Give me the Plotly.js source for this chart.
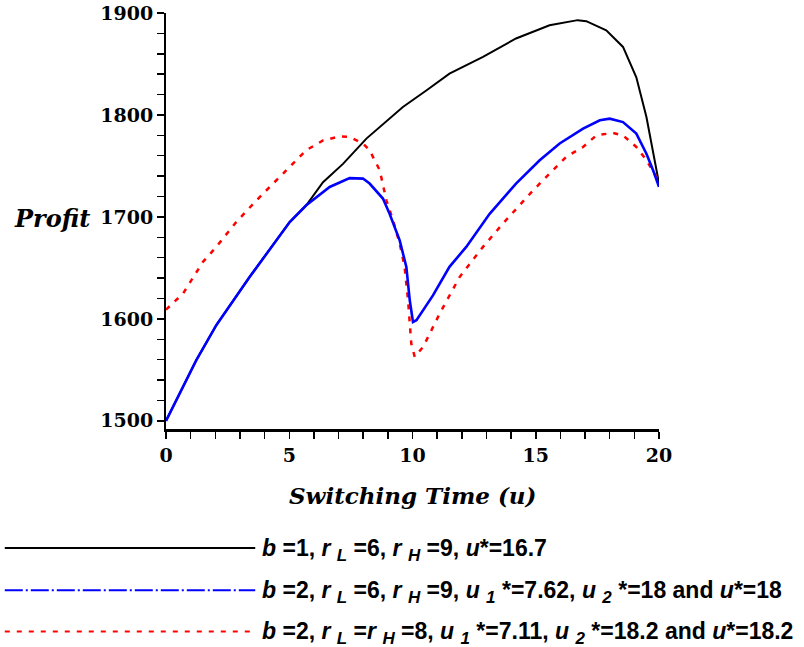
<!DOCTYPE html>
<html>
<head>
<meta charset="utf-8">
<script src="https://cdn.plot.ly/plotly-3.0.1.min.js"></script>
<style>html,body{margin:0;padding:0;background:#fff;}#chart{width:804px;height:647px;}</style>
</head>
<body>
<div id="chart"></div>
<script>
// Series 1: b=1, rL=6, rH=9
const uBlack = [0, 1.23, 2.04, 3.39, 5.02, 5.69, 6.37, 7.18, 8.13, 9.61, 10.56, 11.5, 12.86, 14.2, 15.56, 16.4, 16.7, 17.05, 17.86, 18.54, 19.08, 19.49, 19.76, 19.96, 20];
const profitBlack = [1500, 1559.5, 1593.8, 1641, 1695, 1711.4, 1734, 1752, 1776.8, 1807.8, 1824, 1840.5, 1857, 1875, 1888, 1892, 1893, 1892, 1883, 1866.7, 1837, 1798, 1765, 1740, 1733];
// Series 2: b=2, rL=6, rH=9
const uBlue = [0, 1.23, 2.04, 3.39, 5.02, 5.69, 6.64, 7.45, 7.99, 8.26, 8.8, 9.07, 9.48, 9.75, 9.89, 10.02, 10.16, 10.83, 11.5, 12.18, 13.13, 14.2, 15.16, 15.97, 16.92, 17.6, 18.0, 18.54, 19.08, 19.49, 19.76, 20];
const profitBlue = [1500, 1559.5, 1593.8, 1641, 1695, 1711.4, 1729.4, 1738, 1737.6, 1732.7, 1718, 1703, 1677, 1651, 1618, 1597, 1598.7, 1623, 1651, 1670.6, 1703, 1732.7, 1755.6, 1772, 1786.6, 1794.8, 1796.4, 1793, 1781.7, 1762, 1745.8, 1729.4];
// Series 3: b=2, rL=rH=8
const uRed = [0, 0.69, 1.5, 2.04, 2.85, 3.66, 4.75, 5.69, 6.37, 7.05, 7.45, 7.99, 8.26, 8.67, 8.94, 9.21, 9.48, 9.68, 9.82, 9.95, 10.09, 10.43, 11.1, 11.91, 12.86, 13.67, 14.89, 16.24, 16.92, 17.46, 18.13, 18.54, 19.08, 19.49, 19.9, 20];
const profitRed = [1609, 1624.8, 1655.9, 1670.6, 1695, 1716, 1742.5, 1765.4, 1775, 1779, 1778.4, 1772, 1765.4, 1745.8, 1716.3, 1696.7, 1674, 1651, 1618, 1575.8, 1562.7, 1572.5, 1605, 1641, 1670.6, 1693.5, 1726, 1759, 1768.6, 1780, 1782.4, 1780, 1768.6, 1755.6, 1739, 1734];

function sb(s) { return ' <sub><span style="font-size:17px"><i>' + s + '</i></span></sub> '; }
const legendNames = [
  '<b><i>b</i> =1, <i>r</i>' + sb('L') + '=6, <i>r</i>' + sb('H') + '=9, <i>u</i>*=16.7</b>',
  '<b><i>b</i> =2, <i>r</i>' + sb('L') + '=6, <i>r</i>' + sb('H') + '=9, <i>u</i>' + sb('1') + '*=7.62, <i>u</i>' + sb('2') + '*=18 and <i>u</i>*=18</b>',
  '<b><i>b</i> =2, <i>r</i>' + sb('L') + '=<i>r</i>' + sb('H') + '=8, <i>u</i>' + sb('1') + '*=7.11, <i>u</i>' + sb('2') + '*=18.2 and <i>u</i>*=18.2</b>'
];
const seriesColors = ['#000000', '#0000ff', '#ff0000'];
const seriesDash = ['solid', '18px,3px,2px,3px', '5px,7px'];
const xTitle = '<b><i>Switching Time (u)</i></b>';
const yTitle = '<b><i>Profit</i></b>';

const traces = [
  {x: uBlack, y: profitBlack, mode: 'lines', name: 'b=1', showlegend: false,
   line: {color: seriesColors[0], width: 2}},
  {x: uRed, y: profitRed, mode: 'lines', name: 'b=2, rL=rH=8', showlegend: false,
   line: {color: seriesColors[2], width: 2.5, dash: seriesDash[2]}},
  {x: uBlue, y: profitBlue, mode: 'lines', name: 'b=2, rL=6, rH=9', showlegend: false,
   line: {color: seriesColors[1], width: 2.6}}
];

// legend drawn below the plot (paper coordinates)
const legX0 = -0.327, legX1 = 0.181, legTextX = 0.19;
const legRowsY = [-0.283, -0.384, -0.483];
const shapes = [
  {type: 'line', xref: 'paper', yref: 'paper', x0: 0, x1: 1, y0: 0, y1: 0, layer: 'above',
   line: {color: '#000', width: 2}}
];
const annotations = [];
for (let i = 0; i < 3; i++) {
  shapes.push({type: 'line', xref: 'paper', yref: 'paper', x0: legX0, x1: legX1, y0: legRowsY[i], y1: legRowsY[i],
    line: {color: seriesColors[i], width: 2, dash: seriesDash[i]}});
  annotations.push({text: legendNames[i], xref: 'paper', yref: 'paper', x: legTextX, y: legRowsY[i],
    xanchor: 'left', yanchor: 'middle', yshift: -2, showarrow: false,
    font: {family: 'Liberation Sans, Arial, sans-serif', size: 23, color: '#000'}});
}
annotations.push({text: yTitle, xref: 'paper', yref: 'paper', x: -0.150, y: 0.508, xanchor: 'right', yanchor: 'middle',
  showarrow: false, font: {family: 'DejaVu Serif, serif', size: 24, color: '#000'}});
annotations.push({text: xTitle, xref: 'paper', yref: 'paper', x: 0.5, y: -0.158, xanchor: 'center', yanchor: 'middle',
  showarrow: false, font: {family: 'DejaVu Serif, serif', size: 23, color: '#000'}});

const tickStyle = {ticks: 'outside', ticklen: 7, tickwidth: 1.5, tickcolor: '#000'};

const layout = {
  width: 804, height: 647,
  margin: {l: 166, r: 145, t: 13, b: 217},
  paper_bgcolor: '#ffffff', plot_bgcolor: '#ffffff',
  showlegend: false,
  xaxis: Object.assign({
    range: [0, 20], showgrid: false, zeroline: false, automargin: false,
    showline: true, linecolor: '#000', linewidth: 2,
    tickmode: 'linear', tick0: 0, dtick: 5,
    minor: Object.assign({dtick: 1}, tickStyle),
    tickfont: {family: 'DejaVu Serif, serif', size: 19, color: '#000', weight: 'bold'}
  }, tickStyle),
  xaxis2: Object.assign({
    overlaying: 'x', anchor: 'y', side: 'bottom',
    range: [0, 20], showgrid: false, zeroline: false, automargin: false,
    showline: true, linecolor: '#000', linewidth: 2, showticklabels: false,
    tickmode: 'linear', tick0: 0, dtick: 5,
    minor: Object.assign({dtick: 1}, tickStyle)
  }, tickStyle),
  yaxis: Object.assign({
    range: [1491, 1900], showgrid: false, zeroline: false, automargin: false,
    showline: true, linecolor: '#000', linewidth: 2,
    tickmode: 'linear', tick0: 1500, dtick: 100,
    minor: Object.assign({dtick: 20}, tickStyle),
    tickfont: {family: 'DejaVu Serif, serif', size: 19, color: '#000', weight: 'bold'}
  }, tickStyle),
  shapes: shapes,
  annotations: annotations
};

Plotly.newPlot('chart', traces, layout, {displayModeBar: false, staticPlot: true});
</script>
</body>
</html>
